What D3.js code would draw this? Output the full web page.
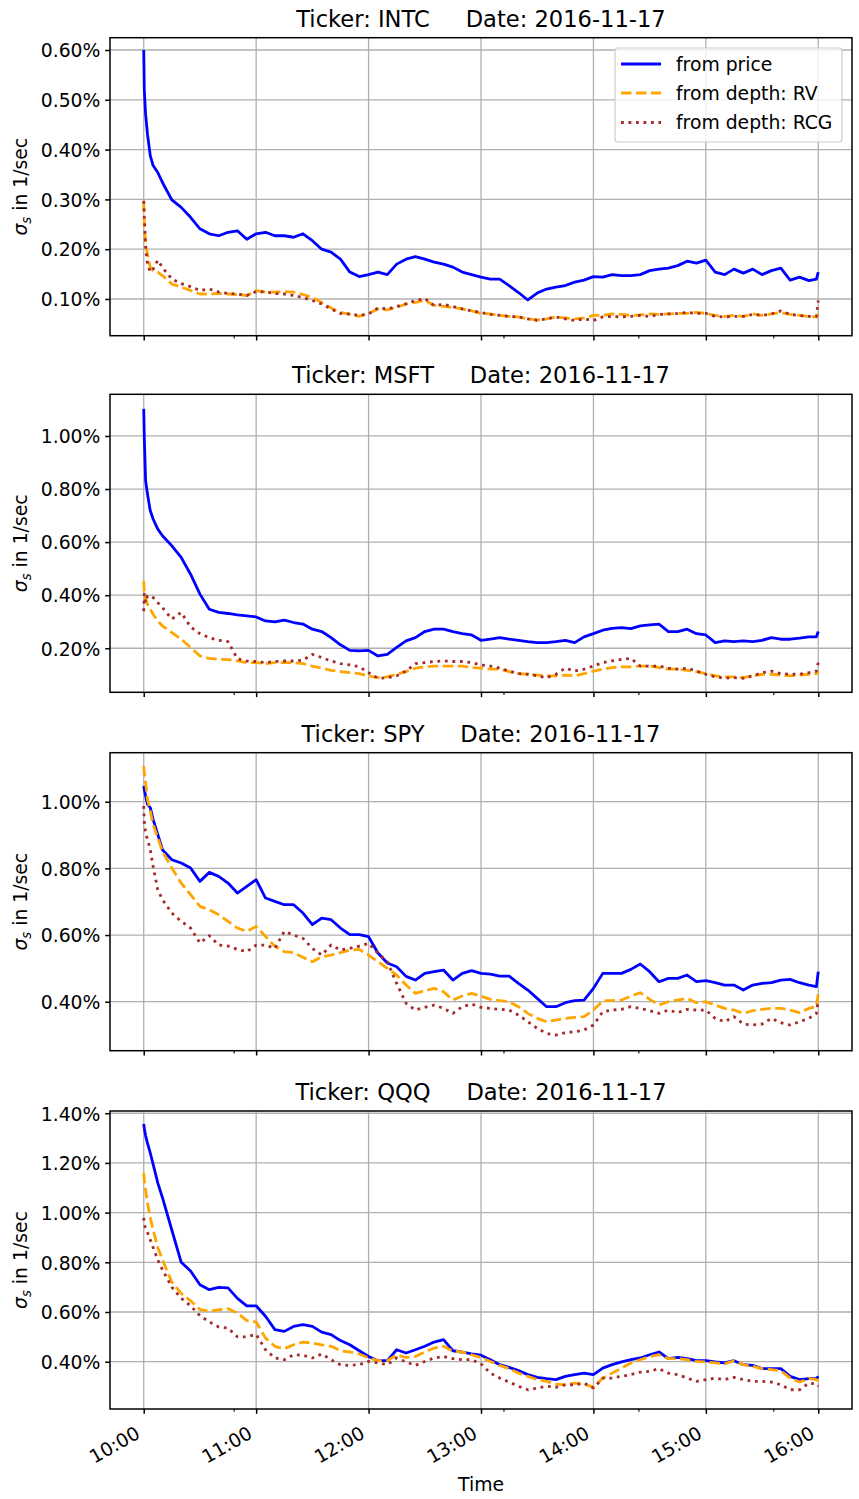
<!DOCTYPE html>
<html><head><meta charset="utf-8">
<script src="https://cdn.jsdelivr.net/npm/d3@7"></script>
<style>
body{margin:0;background:#fff}
svg{display:block}
text{font-family:"DejaVu Sans",sans-serif}
</style>
</head><body>
<svg id="chart" width="859" height="1499"></svg>
<script>
// ---------- DATA ----------
// minutes after 10:00 (shared time grid for every series)
const minutes = [0,0.3,1,2,3.5,5,7.5,10,15,20,25,30,35,40,45,50,55,60,65,70,75,80,85,90,95,100,105,110,115,120,125,130,135,140,145,150,155,160,165,170,175,180,185,190,195,200,205,210,215,220,225,230,235,240,245,250,255,260,265,270,275,280,285,290,295,300,305,310,315,320,325,330,335,340,345,350,355,359,360];

const tickers = ["INTC","MSFT","SPY","QQQ"];
const dateLabel = "2016-11-17";
const seriesNames = ["from price","from depth: RV","from depth: RCG"];

// values in percent (1/sec)
const intcPrice = [0.600,0.521,0.471,0.431,0.388,0.368,0.354,0.334,
 0.299,0.284,0.264,0.241,0.231,0.227,0.234,0.237,0.220,0.231,
 0.234,0.227,0.227,0.224,0.231,0.217,0.200,0.194,0.180,0.154,
 0.145,0.149,0.154,0.149,0.170,0.180,0.185,0.180,0.174,0.170,
 0.164,0.154,0.149,0.144,0.140,0.140,0.127,0.113,0.098,0.112,
 0.120,0.124,0.127,0.134,0.138,0.145,0.144,0.149,0.147,0.147,
 0.149,0.157,0.160,0.162,0.167,0.176,0.172,0.178,0.154,0.149,
 0.160,0.152,0.160,0.149,0.157,0.162,0.138,0.144,0.137,
 0.140,0.154];
const intcRV = [0.295,0.250,0.210,0.190,0.163,0.157,0.154,0.147,
 0.130,0.124,0.117,0.110,0.110,0.111,0.110,0.109,0.107,0.117,
 0.114,0.114,0.115,0.114,0.109,0.103,0.093,0.082,0.073,0.069,
 0.065,0.071,0.080,0.078,0.083,0.090,0.093,0.097,0.087,0.085,
 0.083,0.080,0.076,0.071,0.070,0.067,0.065,0.064,0.060,0.058,
 0.060,0.064,0.062,0.060,0.062,0.067,0.067,0.070,0.069,0.067,
 0.068,0.070,0.069,0.070,0.071,0.071,0.073,0.071,0.067,0.065,
 0.067,0.065,0.070,0.067,0.070,0.073,0.069,0.067,0.065,
 0.064,0.070];
const intcRCG = [0.297,0.264,0.204,0.170,0.154,0.160,0.178,0.163,
 0.140,0.131,0.125,0.117,0.120,0.114,0.111,0.110,0.107,0.115,
 0.114,0.111,0.110,0.107,0.103,0.097,0.090,0.080,0.071,0.070,
 0.067,0.070,0.082,0.080,0.085,0.090,0.097,0.101,0.087,0.089,
 0.085,0.080,0.076,0.073,0.069,0.067,0.065,0.064,0.060,0.057,
 0.060,0.064,0.060,0.057,0.060,0.057,0.064,0.065,0.064,0.065,
 0.067,0.065,0.069,0.070,0.071,0.073,0.071,0.071,0.065,0.064,
 0.065,0.065,0.069,0.067,0.070,0.076,0.069,0.067,0.065,
 0.065,0.097];

const msftPrice = [1.102,0.995,0.831,0.781,0.718,0.687,0.649,0.624,
 0.586,0.542,0.479,0.404,0.347,0.335,0.331,0.326,0.322,0.318,
 0.303,0.299,0.306,0.297,0.291,0.272,0.263,0.240,0.213,0.192,
 0.190,0.192,0.171,0.177,0.203,0.228,0.240,0.263,0.272,0.272,
 0.263,0.255,0.250,0.230,0.234,0.240,0.234,0.230,0.225,0.221,
 0.221,0.225,0.230,0.221,0.243,0.255,0.268,0.275,0.278,0.274,
 0.284,0.288,0.291,0.263,0.263,0.272,0.255,0.250,0.221,0.228,
 0.225,0.228,0.225,0.230,0.240,0.234,0.234,0.238,0.243,
 0.243,0.263];
const msftRV = [0.454,0.404,0.385,0.366,0.347,0.328,0.303,0.284,
 0.259,0.234,0.203,0.171,0.162,0.158,0.157,0.152,0.146,0.146,
 0.142,0.146,0.146,0.146,0.142,0.133,0.125,0.117,0.112,0.108,
 0.104,0.096,0.089,0.092,0.102,0.112,0.125,0.130,0.133,0.133,
 0.133,0.133,0.127,0.125,0.121,0.121,0.112,0.104,0.102,0.099,
 0.096,0.096,0.099,0.096,0.104,0.114,0.121,0.127,0.130,0.130,
 0.133,0.133,0.127,0.121,0.121,0.117,0.112,0.104,0.096,0.092,
 0.092,0.089,0.096,0.102,0.102,0.099,0.096,0.099,0.102,
 0.104,0.114];
const msftRCG = [0.340,0.404,0.372,0.397,0.397,0.391,0.372,0.353,
 0.310,0.335,0.280,0.255,0.240,0.230,0.225,0.160,0.152,0.150,
 0.146,0.150,0.152,0.152,0.155,0.177,0.165,0.152,0.142,0.137,
 0.130,0.108,0.087,0.089,0.096,0.114,0.142,0.146,0.150,0.152,
 0.150,0.150,0.146,0.137,0.133,0.125,0.114,0.104,0.102,0.096,
 0.089,0.102,0.125,0.114,0.121,0.133,0.146,0.152,0.158,0.162,
 0.133,0.133,0.133,0.125,0.121,0.125,0.114,0.102,0.092,0.087,
 0.089,0.087,0.096,0.108,0.114,0.104,0.102,0.102,0.108,
 0.114,0.146];

const spyPrice = [1.047,1.037,1.017,0.992,0.982,0.947,0.902,0.856,
 0.826,0.816,0.801,0.761,0.788,0.776,0.756,0.726,0.746,0.766,
 0.711,0.701,0.691,0.691,0.666,0.631,0.651,0.646,0.621,0.601,
 0.601,0.595,0.546,0.516,0.505,0.476,0.465,0.485,0.490,0.495,
 0.465,0.485,0.493,0.485,0.483,0.477,0.477,0.455,0.435,0.410,
 0.385,0.385,0.397,0.403,0.405,0.440,0.485,0.485,0.485,0.497,
 0.513,0.490,0.460,0.470,0.470,0.480,0.460,0.463,0.457,0.450,
 0.450,0.435,0.450,0.455,0.457,0.465,0.467,0.457,0.450,
 0.445,0.490];
const spyRV = [1.107,1.087,1.057,1.007,0.972,0.932,0.892,0.851,
 0.801,0.756,0.721,0.686,0.676,0.661,0.641,0.621,0.611,0.626,
 0.596,0.566,0.550,0.547,0.533,0.520,0.535,0.540,0.547,0.555,
 0.557,0.540,0.520,0.500,0.480,0.450,0.425,0.433,0.440,0.430,
 0.405,0.417,0.425,0.417,0.407,0.403,0.400,0.385,0.365,0.350,
 0.340,0.345,0.350,0.353,0.355,0.375,0.403,0.403,0.405,0.417,
 0.427,0.407,0.390,0.400,0.405,0.410,0.397,0.400,0.390,0.380,
 0.375,0.365,0.373,0.377,0.380,0.380,0.375,0.367,0.380,
 0.385,0.425];
const spyRCG = [0.987,0.937,0.907,0.887,0.856,0.806,0.736,0.706,
 0.666,0.641,0.621,0.576,0.598,0.570,0.567,0.557,0.550,0.570,
 0.570,0.560,0.611,0.600,0.590,0.560,0.540,0.570,0.555,0.560,
 0.567,0.575,0.545,0.520,0.455,0.395,0.375,0.383,0.390,0.380,
 0.365,0.385,0.393,0.383,0.380,0.377,0.375,0.360,0.340,0.320,
 0.305,0.300,0.307,0.310,0.315,0.330,0.370,0.375,0.377,0.385,
 0.380,0.373,0.365,0.375,0.367,0.377,0.375,0.375,0.350,0.340,
 0.355,0.333,0.330,0.333,0.350,0.337,0.330,0.340,0.350,
 0.365,0.405];

const qqqPrice = [1.357,1.340,1.310,1.280,1.240,1.195,1.120,1.060,
 0.930,0.800,0.765,0.710,0.690,0.699,0.697,0.655,0.625,0.625,
 0.583,0.529,0.522,0.542,0.549,0.542,0.519,0.509,0.485,0.468,
 0.444,0.421,0.404,0.404,0.448,0.435,0.448,0.462,0.479,0.489,
 0.444,0.439,0.431,0.426,0.408,0.388,0.377,0.364,0.348,0.337,
 0.332,0.328,0.341,0.348,0.354,0.348,0.374,0.388,0.399,0.408,
 0.415,0.428,0.439,0.412,0.417,0.412,0.404,0.404,0.399,0.395,
 0.404,0.388,0.385,0.372,0.372,0.372,0.341,0.328,0.332,
 0.332,0.341];
const qqqRV = [1.160,1.130,1.090,1.040,0.980,0.930,0.860,0.810,
 0.720,0.675,0.645,0.610,0.603,0.609,0.613,0.596,0.565,0.560,
 0.495,0.462,0.452,0.468,0.479,0.475,0.468,0.462,0.444,0.439,
 0.431,0.415,0.404,0.404,0.428,0.417,0.421,0.439,0.455,0.462,
 0.442,0.439,0.428,0.417,0.401,0.385,0.372,0.354,0.341,0.328,
 0.321,0.310,0.307,0.314,0.310,0.297,0.334,0.354,0.374,0.395,
 0.408,0.421,0.428,0.412,0.412,0.408,0.401,0.399,0.395,0.391,
 0.404,0.388,0.381,0.372,0.368,0.364,0.334,0.318,0.332,
 0.328,0.323];
const qqqRCG = [0.979,0.955,0.935,0.920,0.890,0.860,0.810,0.770,
 0.700,0.655,0.625,0.585,0.560,0.540,0.535,0.500,0.500,0.510,
 0.448,0.415,0.408,0.428,0.426,0.415,0.431,0.408,0.388,0.385,
 0.388,0.401,0.395,0.388,0.415,0.399,0.385,0.401,0.415,0.421,
 0.412,0.408,0.408,0.391,0.354,0.334,0.318,0.301,0.287,0.294,
 0.301,0.297,0.307,0.307,0.314,0.294,0.334,0.334,0.341,0.348,
 0.358,0.361,0.372,0.354,0.348,0.334,0.321,0.328,0.334,0.328,
 0.337,0.328,0.321,0.321,0.318,0.307,0.287,0.287,0.314,
 0.310,0.301];

// axis limits and ticks (percent)
const yLimits = [[0.0263,0.6247],[0.034,1.157],[0.253,1.147],[0.2096,1.409]];
const yTicks = [[0.1,0.2,0.3,0.4,0.5,0.6],[0.2,0.4,0.6,0.8,1.0],[0.4,0.6,0.8,1.0],[0.4,0.6,0.8,1.0,1.2,1.4]];
const xTickMinutes = [0,60,120,180,240,300,360];
const xTickLabels = ["10:00","11:00","12:00","13:00","14:00","15:00","16:00"];
const xMinorMinutes = [48,192,264,336];
const xLimits = [-18,378];

// ---------- DRAW ----------
const svg = d3.select("#chart");
const L = 110, R = 852, H = 298;
const tops = [37.7, 394.3, 752.7, 1111];
const FS = 18.8, TFS = 22.6;
const styles = [
  {color:"#0000ff", dash:null},
  {color:"#ffa500", dash:"10.5,4.5"},
  {color:"#a52a2a", dash:"2.8,4.7"}
];
const allSeries = [
  [intcPrice,intcRV,intcRCG],
  [msftPrice,msftRV,msftRCG],
  [spyPrice,spyRV,spyRCG],
  [qqqPrice,qqqRV,qqqRCG]
];
const x = d3.scaleLinear().domain(xLimits).range([L,R]);

tickers.forEach((tk,i)=>{
  const top = tops[i], bottom = top + H;
  const y = d3.scaleLinear().domain(yLimits[i]).range([bottom, top]);
  const g = svg.append("g");

  // grid
  g.append("g").selectAll("line").data(xTickMinutes).join("line")
    .attr("x1",d=>x(d)).attr("x2",d=>x(d)).attr("y1",top).attr("y2",bottom)
    .attr("stroke","#b0b0b0").attr("stroke-width",1.3);
  g.append("g").selectAll("line").data(yTicks[i]).join("line")
    .attr("x1",L).attr("x2",R).attr("y1",d=>y(d)).attr("y2",d=>y(d))
    .attr("stroke","#b0b0b0").attr("stroke-width",1.3);

  // clip
  const cid = "clip"+i;
  svg.append("clipPath").attr("id",cid).append("rect")
    .attr("x",L).attr("y",top).attr("width",R-L).attr("height",H);

  const line = d3.line().x((d,j)=>x(minutes[j])).y(d=>y(d));
  const lg = g.append("g").attr("clip-path",`url(#${cid})`);
  allSeries[i].forEach((vals,k)=>{
    lg.append("path").datum(vals).attr("d",line)
      .attr("fill","none").attr("stroke",styles[k].color)
      .attr("stroke-width",2.8).attr("stroke-linejoin","round")
      .attr("stroke-dasharray",styles[k].dash);
  });

  // spines
  g.append("rect").attr("x",L).attr("y",top).attr("width",R-L).attr("height",H)
    .attr("fill","none").attr("stroke","#000").attr("stroke-width",1.5);

  // y axis
  const ya = g.append("g").attr("transform",`translate(${L},0)`)
    .call(d3.axisLeft(y).tickValues(yTicks[i]).tickSize(4.8).tickPadding(4.8)
      .tickFormat(d=>d.toFixed(2)+"%"));
  ya.select(".domain").remove();
  ya.selectAll(".tick line").attr("stroke","#000").attr("stroke-width",1.5);
  ya.selectAll(".tick text").attr("font-size",FS).attr("font-family","DejaVu Sans")
    .attr("fill","#000").attr("dy","0.36em");

  // x axis major
  const isLast = i === tickers.length-1;
  const xa = g.append("g").attr("transform",`translate(0,${bottom})`)
    .call(d3.axisBottom(x).tickValues(xTickMinutes).tickSize(4.8)
      .tickFormat((d,j)=> isLast ? xTickLabels[j] : ""));
  xa.select(".domain").remove();
  xa.selectAll(".tick line").attr("stroke","#000").attr("stroke-width",1.5);
  if (isLast) {
    xa.selectAll(".tick text")
      .attr("font-size",FS).attr("font-family","DejaVu Sans").attr("fill","#000")
      .attr("text-anchor","end").attr("x",0).attr("y",0).attr("dy",0)
      .attr("transform","translate(-3,28) rotate(-30)");
  } else {
    xa.selectAll(".tick text").remove();
  }
  // x axis minor
  const xm = g.append("g").attr("transform",`translate(0,${bottom})`)
    .call(d3.axisBottom(x).tickValues(xMinorMinutes).tickSize(2.7).tickFormat(""));
  xm.select(".domain").remove();
  xm.selectAll(".tick line").attr("stroke","#000").attr("stroke-width",1.1);

  // title
  g.append("text").attr("x",(L+R)/2).attr("y",top-11)
    .attr("text-anchor","middle").attr("font-size",TFS).attr("fill","#000")
    .style("white-space","pre")
    .text(`Ticker: ${tk}     Date: ${dateLabel}`);

  // y label
  const yl = g.append("text")
    .attr("transform",`translate(27,${(top+bottom)/2}) rotate(-90)`)
    .attr("text-anchor","middle").attr("font-size",FS).attr("fill","#000");
  yl.append("tspan").attr("font-style","italic").text("σ");
  yl.append("tspan").attr("font-style","italic").attr("font-size",13.2).attr("dy",4).text("s");
  yl.append("tspan").attr("dy",-4).style("white-space","pre").text(" in 1/sec");

  // legend on first panel
  if (i === 0) {
    const leg = g.append("g");
    leg.append("rect").attr("x",615).attr("y",48).attr("width",227).attr("height",94)
      .attr("rx",3).attr("fill","#fff").attr("fill-opacity",0.8)
      .attr("stroke","#cccccc").attr("stroke-width",1.2);
    const ly = [64,93,122.5];
    seriesNames.forEach((nm,k)=>{
      leg.append("line").attr("x1",621).attr("x2",661).attr("y1",ly[k]).attr("y2",ly[k])
        .attr("stroke",styles[k].color).attr("stroke-width",2.8)
        .attr("stroke-dasharray",styles[k].dash);
      leg.append("text").attr("x",676).attr("y",ly[k]+6.8)
        .attr("font-size",FS).attr("fill","#000").text(nm);
    });
  }
});

// x label
svg.append("text").attr("x",(L+R)/2).attr("y",1491).attr("text-anchor","middle")
  .attr("font-size",FS).attr("fill","#000").text("Time");
</script>
</body></html>
